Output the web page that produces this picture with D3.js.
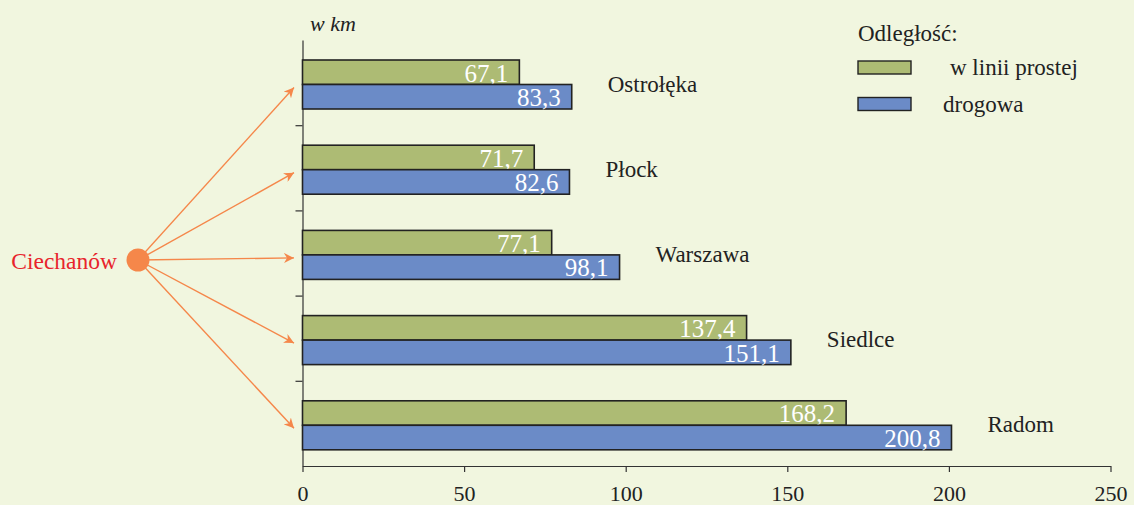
<!DOCTYPE html>
<html>
<head>
<meta charset="utf-8">
<script src="https://cdn.jsdelivr.net/npm/d3@7"></script>
<style>
  body { margin: 0; background: #f1f6df; }
</style>
</head>
<body>
<svg class="chart"></svg>
<script>
// Data
const cities = ['Ostrołęka', 'Płock', 'Warszawa', 'Siedlce', 'Radom'];
const straightLine = [67.1, 71.7, 77.1, 137.4, 168.2];
const byRoad = [83.3, 82.6, 98.1, 151.1, 200.8];
const xTicks = [0, 50, 100, 150, 200, 250];
const seriesNames = ['w linii prostej', 'drogowa'];
const origin = 'Ciechanów';

const colors = ['#adbb74', '#6b8bc7'];
const serif = '"Liberation Serif", "Times New Roman", serif';
const fmt = v => v.toFixed(1).replace('.', ',');

const svgWidth = 1134;
const svgHeight = 505;
const svg = d3.select('.chart')
  .attr('width', svgWidth)
  .attr('height', svgHeight)
  .attr('font-family', serif);

svg.append('rect')
  .attr('width', svgWidth)
  .attr('height', svgHeight)
  .attr('fill', '#f1f6df');

// Scales
const xScale = d3.scaleLinear()
  .domain([0, 250])
  .range([302.5, 1110.5]);

const yScale = d3.scaleBand()
  .domain(cities)
  .range([40, 466]);

const yBound = d3.scaleLinear()
  .domain([0, cities.length])
  .range([40, 466]);

const barH = 24.5;
const barTop = d => yScale(d) + 20;     // green bar top
const split = d => barTop(d) + barH;    // green/blue boundary

// Axes
const xAxisGroup = svg.append('g')
  .attr('transform', 'translate(0,466)')
  .call(d3.axisBottom(xScale).tickValues(xTicks).tickSize(6).tickSizeOuter(0).tickPadding(13));
xAxisGroup.attr('font-family', serif);
xAxisGroup.select('.domain').attr('stroke', '#333').attr('stroke-width', 1.2);
xAxisGroup.selectAll('line').attr('stroke', '#333').attr('stroke-width', 1.2);
xAxisGroup.selectAll('text')
  .attr('fill', '#222')
  .attr('font-size', '22px');

const yAxisGroup = svg.append('g')
  .attr('transform', 'translate(302.5,0)')
  .call(d3.axisLeft(yBound).tickValues([1, 2, 3, 4]).tickSize(7).tickSizeOuter(0).tickFormat(''));
yAxisGroup.select('.domain').attr('stroke', '#333').attr('stroke-width', 1.2);
yAxisGroup.selectAll('line').attr('stroke', '#333').attr('stroke-width', 1.2);

svg.append('text')
  .attr('x', 310)
  .attr('y', 31)
  .attr('font-size', '22px')
  .attr('font-style', 'italic')
  .attr('fill', '#222')
  .text('w km');

// Bars
const series = [straightLine, byRoad];
series.forEach((vals, s) => {
  const g = svg.append('g');
  g.selectAll('rect')
    .data(cities)
    .enter()
    .append('rect')
    .attr('x', xScale(0))
    .attr('y', d => barTop(d) + s * barH)
    .attr('width', (d, i) => xScale(vals[i]) - xScale(0))
    .attr('height', barH)
    .attr('fill', colors[s])
    .attr('stroke', '#222')
    .attr('stroke-width', 1.6);

  g.selectAll('text')
    .data(cities)
    .enter()
    .append('text')
    .attr('x', (d, i) => xScale(vals[i]) - 11)
    .attr('y', d => barTop(d) + s * barH + barH - 3)
    .attr('text-anchor', 'end')
    .attr('font-size', '25px')
    .attr('fill', '#fff')
    .text((d, i) => fmt(vals[i]));
});

// City labels
svg.append('g').selectAll('text')
  .data(cities)
  .enter()
  .append('text')
  .attr('x', (d, i) => xScale(byRoad[i]) + 36)
  .attr('y', d => split(d) + 7)
  .attr('font-size', '23px')
  .attr('fill', '#222')
  .text(d => d);

// Arrows from Ciechanów
const orange = '#f5874a';
svg.append('defs').append('marker')
  .attr('id', 'arrow')
  .attr('viewBox', '0 0 10 10')
  .attr('refX', 10)
  .attr('refY', 5)
  .attr('markerWidth', 10)
  .attr('markerHeight', 10)
  .attr('markerUnits', 'userSpaceOnUse')
  .attr('orient', 'auto')
  .append('path')
  .attr('d', 'M0,0 L10,5 L0,10 L3,5 Z')
  .attr('fill', orange);

const cx = 138, cy = 260;
svg.append('g').selectAll('line')
  .data(cities)
  .enter()
  .append('line')
  .attr('x1', cx)
  .attr('y1', cy)
  .attr('x2', 294)
  .attr('y2', d => split(d) + 3)
  .attr('stroke', orange)
  .attr('stroke-width', 1.4)
  .attr('marker-end', 'url(#arrow)');

svg.append('circle')
  .attr('cx', cx)
  .attr('cy', cy)
  .attr('r', 11.5)
  .attr('fill', orange);

svg.append('text')
  .attr('x', 117)
  .attr('y', 269)
  .attr('text-anchor', 'end')
  .attr('font-size', '23.5px')
  .attr('fill', '#e8242c')
  .text(origin);

// Legend
const legend = svg.append('g');
legend.append('text')
  .attr('x', 858)
  .attr('y', 41)
  .attr('font-size', '23px')
  .attr('fill', '#222')
  .text('Odległość:');

const legendY = [61, 97.5];
const legendTextX = [950, 943];
seriesNames.forEach((name, s) => {
  legend.append('rect')
    .attr('x', 858)
    .attr('y', legendY[s])
    .attr('width', 53)
    .attr('height', 13)
    .attr('fill', colors[s])
    .attr('stroke', '#222')
    .attr('stroke-width', 1.4);
  legend.append('text')
    .attr('x', legendTextX[s])
    .attr('y', legendY[s] + 14)
    .attr('font-size', '23px')
    .attr('fill', '#222')
    .text(name);
});
</script>
</body>
</html>
